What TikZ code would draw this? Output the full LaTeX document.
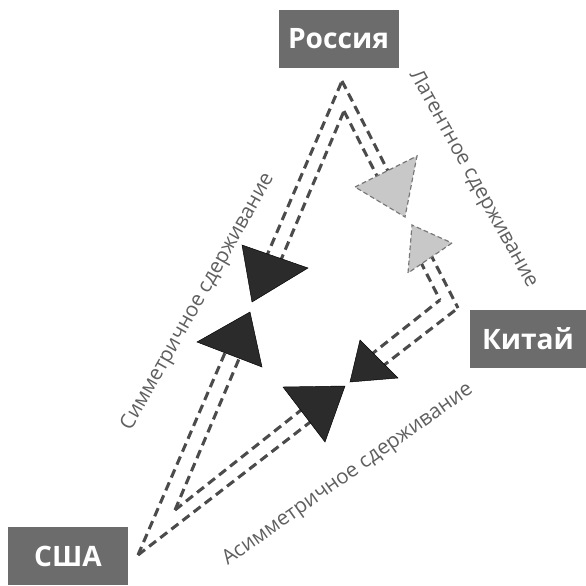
\documentclass[tikz,border=0pt]{standalone}
\usepackage{fontspec}
\setmainfont{Open Sans}
\usetikzlibrary{calc}

\definecolor{boxgray}{RGB}{108,108,108}
\definecolor{linegray}{RGB}{75,75,75}
\definecolor{arrowblack}{RGB}{43,43,43}
\definecolor{softgray}{RGB}{200,200,200}
\definecolor{softedge}{RGB}{120,120,120}
\definecolor{labelgray}{RGB}{95,95,95}

\begin{document}
\begin{tikzpicture}[x=0.03cm,y=-0.03cm,
        country/.style={fill=boxgray,text=white,inner sep=0pt,
            font=\fontsize{24}{24}\selectfont\bfseries,
            minimum width=3.6cm,minimum height=1.74cm},
        deter line/.style={draw=linegray,line width=2.6pt,dash pattern=on 7.5pt off 4.5pt},
        hard tip/.style={fill=arrowblack},
        soft tip/.style={fill=softgray,draw=softedge,line width=1pt,dash pattern=on 4pt off 2.5pt},
        side label/.style={text=labelgray,font=\fontsize{17.5}{17.5}\selectfont}]

        \useasboundingbox (0,0) rectangle (586,585);

        % Define countries
        \node[country] (russia) at (338.5,39) {Россия};
        \node[country, minimum width=3.5cm] (china) at (528,339) {Китай};
        \node[country] (usa) at (68,556) {США};

        % Corners of the two triangles
        \coordinate (ruo) at (342,81);
        \coordinate (rui) at (344,111);
        \coordinate (cho) at (458,308);
        \coordinate (chi) at (440,300);
        \coordinate (uso) at (138,555);
        \coordinate (usi) at (175,510);

        % Where the lines meet the tips
        \coordinate (so1) at ($(uso)!0.43!(ruo)$);
        \coordinate (so2) at ($(uso)!0.625!(ruo)$);
        \coordinate (si1) at ($(usi)!0.39!(rui)$);
        \coordinate (si2) at ($(usi)!0.62!(rui)$);
        \coordinate (lo1) at ($(ruo)!0.41!(cho)$);
        \coordinate (lo2) at ($(ruo)!0.76!(cho)$);
        \coordinate (li1) at ($(rui)!0.36!(chi)$);
        \coordinate (li2) at ($(rui)!0.795!(chi)$);
        \coordinate (ao1) at ($(uso)!0.55!(cho)$);
        \coordinate (ao2) at ($(uso)!0.76!(cho)$);
        \coordinate (ai1) at ($(usi)!0.49!(chi)$);
        \coordinate (ai2) at ($(usi)!0.735!(chi)$);

        % Draw dashed lines
        \path[deter line]
            (uso) edge (so1)
            (so2) edge (ruo)
            (usi) edge (si1)
            (si2) edge (rui)
            (ruo) edge (lo1)
            (lo2) edge (cho)
            (rui) edge (li1)
            (li2) edge (chi)
            (uso) edge (ao1)
            (ao2) edge (cho)
            (usi) edge (ai1)
            (ai2) edge (chi);

        % Tips
        \filldraw[hard tip] (242,245) -- (308,268) -- (252,302) -- cycle;
        \filldraw[hard tip] (250,312) -- (197,342) -- (262,367) -- cycle;
        \filldraw[hard tip] (283,387) -- (325,442) -- (345,386) -- cycle;
        \filldraw[hard tip] (360,340) -- (398,378) -- (350,382) -- cycle;
        \filldraw[soft tip] (355,187) -- (417,156) -- (405,217) -- cycle;
        \filldraw[soft tip] (452,243) -- (408,273) -- (412,225) -- cycle;

        % Labels
        \node[side label, rotate=60.6] (symlab) at (198,302) {Симметричное сдерживание};
        \node[side label, rotate=-61] (latlab) at (473,179) {Латентное сдерживание};
        \node[side label, rotate=35.2] (asymlab) at (348,475) {Асимметричное сдерживание};

\end{tikzpicture}
\end{document}
